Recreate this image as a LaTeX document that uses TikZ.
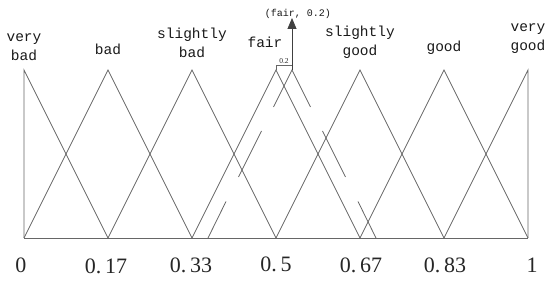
\documentclass[tikz,border=0pt]{standalone}
\usepackage{fontspec}
\setmainfont{Liberation Serif}
\newfontfamily\labfont{Liberation Mono}
\usetikzlibrary{arrows.meta}
\begin{document}
\begin{tikzpicture}[x=1pt,y=-1pt,
  mf/.style={line width=0.8pt, draw=black!60},
  lab/.style={font=\labfont\fontsize{14.5}{19}\selectfont, text=black!90, align=center, inner sep=0pt},
  num/.style={font=\fontsize{22}{24}\selectfont, text=black!85, inner sep=0pt},
  small/.style={font=\labfont\fontsize{10}{12}\selectfont, text=black!90, inner sep=0pt},
  tiny/.style={font=\fontsize{7.5}{8}\selectfont, text=black!85, inner sep=0pt}]
\useasboundingbox (0,0) rectangle (550,283);
\foreach \i in {0,...,6} {
  \coordinate (p\i) at ({24+84*\i},70);
  \coordinate (b\i) at ({24+84*\i},238);
}
% baseline
\draw[mf] (b0) -- (b6);
% membership functions
\draw[mf] (b0) -- (p0) -- (b1);
\draw[mf] (b0) -- (p1) -- (b2);
\draw[mf] (b1) -- (p2) -- (b3);
\draw[mf] (b2) -- (p3) -- (b4);
\draw[mf] (b3) -- (p4) -- (b5);
\draw[mf] (b4) -- (p5) -- (b6);
\draw[mf] (b5) -- (p6) -- (b6);
% shifted fair triangle (broken)
\coordinate (s) at (292,70);
\coordinate (l1) at (273.5,107);   \coordinate (l2) at (261.5,131);
\coordinate (l3) at (238.5,177);   \coordinate (l4) at (226,201.5);
\coordinate (l5) at (208,238);
\coordinate (r1) at (310.5,107);   \coordinate (r2) at (322.5,131);
\coordinate (r3) at (345.5,177);   \coordinate (r4) at (358,201.5);
\coordinate (r5) at (376,238);
\draw[mf] (l1) -- (s) -- (r1);
\draw[mf] (l2) -- (l3);
\draw[mf] (l4) -- (l5);
\draw[mf] (r2) -- (r3);
\draw[mf] (r4) -- (r5);
% arrow
\coordinate (top) at (292,18);
\draw[line width=0.8pt, draw=black!75, -{Triangle[width=9pt,length=11pt]}] (s) -- (top);
% 0.2 bracket
\coordinate (bk) at (276,65.5);
\coordinate (bs) at (292,65.5);
\draw[mf] (p3) -- (bk) -- (bs);
\node[tiny] (t02) at (284,61) {0.2};
\node[small] (fp) at (298,14) {(fair, 0.2)};
% labels
\node[lab] (vb) at (24,47.5) {very\\bad};
\node[lab] (bd) at (108,49) {bad};
\node[lab] (sb) at (192,43) {slightly\\bad};
\node[lab] (fa) at (265,42) {fair};
\node[lab] (sg) at (360,42) {slightly\\good};
\node[lab] (gd) at (444,48) {good};
\node[lab] (vg) at (528,39) {very\\good};
% numbers
\node[num] (n0) at (21,265) {0};
\node[num] (n1) at (106,266) {0.\,17};
\node[num] (n2) at (191,265) {0.\,33};
\node[num] (n3) at (276,264) {0.\,5};
\node[num] (n4) at (361,265) {0.\,67};
\node[num] (n5) at (445,265) {0.\,83};
\node[num] (n6) at (532,265) {1};
\end{tikzpicture}
\end{document}
